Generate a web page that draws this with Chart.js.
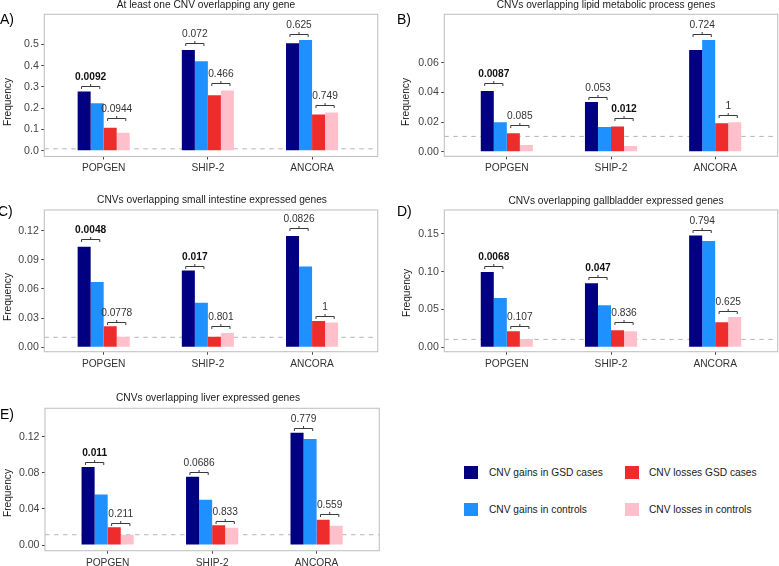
<!DOCTYPE html>
<html><head><meta charset="utf-8">
<script src="https://cdn.jsdelivr.net/npm/chart.js@4"></script>
<style>
body{margin:0;background:#fff;}
#wrap{position:relative;width:779px;height:566px;overflow:hidden;font-family:"Liberation Sans",Arial,sans-serif;background:#fff;}
canvas{position:absolute;}
.t{position:absolute;font-size:10.2px;color:#1a1a1a;white-space:nowrap;line-height:12px;height:12px;text-align:center;width:400px;}
.lt{position:absolute;font-size:14px;color:#000;line-height:16px;white-space:nowrap;}
.yt{position:absolute;font-size:10.2px;color:#1a1a1a;line-height:12px;height:12px;width:100px;text-align:center;transform:rotate(-90deg);}
.sw{position:absolute;width:14px;height:13px;}
.lg{position:absolute;font-size:10.2px;color:#1a1a1a;line-height:12px;white-space:nowrap;}
</style></head>
<body><div id="wrap"></div>
<script>
const categories = ['POPGEN', 'SHIP-2', 'ANCORA'];
const seriesNames = ['CNV gains in GSD cases', 'CNV gains in controls', 'CNV losses GSD cases', 'CNV losses in controls'];
const seriesColors = ['#000080', '#1E90FF', '#EE2C2C', '#FFC0CB'];

// Panel A
const aGainsCases = [0.278, 0.473, 0.505];
const aGainsControls = [0.223, 0.420, 0.520];
const aLossesCases = [0.108, 0.261, 0.170];
const aLossesControls = [0.084, 0.283, 0.180];
const aGainBracket = [0.305, 0.507, 0.548];
const aGainP = ['0.0092', '0.072', '0.625'];
const aGainBold = [true, false, false];
const aLossBracket = [0.152, 0.320, 0.214];
const aLossP = ['0.0944', '0.466', '0.749'];
const aLossBold = [false, false, false];
const aYTicks = [0, 0.1, 0.2, 0.3, 0.4, 0.5];
const aThreshold = 0.009;

// Panel B
const bGainsCases = [0.0409, 0.0335, 0.0685];
const bGainsControls = [0.0198, 0.0166, 0.0753];
const bLossesCases = [0.0124, 0.0169, 0.0191];
const bLossesControls = [0.0045, 0.0038, 0.0198];
const bGainBracket = [0.0465, 0.0371, 0.0793];
const bGainP = ['0.0087', '0.053', '0.724'];
const bGainBold = [true, false, false];
const bLossBracket = [0.0182, 0.0227, 0.0247];
const bLossP = ['0.085', '0.012', '1'];
const bLossBold = [false, true, false];
const bYTicks = [0, 0.02, 0.04, 0.06];
const bThreshold = 0.0103;

// Panel C
const cGainsCases = [0.1035, 0.0789, 0.1145];
const cGainsControls = [0.0672, 0.0459, 0.0830];
const cLossesCases = [0.0216, 0.0110, 0.0271];
const cLossesControls = [0.0110, 0.0147, 0.0254];
const cGainBracket = [0.1110, 0.0837, 0.1224];
const cGainP = ['0.0048', '0.017', '0.0826'];
const cGainBold = [true, true, false];
const cLossBracket = [0.0260, 0.0219, 0.0326];
const cLossP = ['0.0778', '0.801', '1'];
const cLossBold = [false, false, false];
const cYTicks = [0, 0.03, 0.06, 0.09, 0.12];
const cThreshold = 0.0103;

// Panel D
const dGainsCases = [0.0997, 0.0847, 0.1478];
const dGainsControls = [0.0653, 0.0556, 0.1407];
const dLossesCases = [0.0212, 0.0225, 0.0331];
const dLossesControls = [0.0110, 0.0212, 0.0401];
const dGainBracket = [0.1076, 0.0926, 0.1553];
const dGainP = ['0.0068', '0.047', '0.794'];
const dGainBold = [true, true, false];
const dLossBracket = [0.0287, 0.0331, 0.0481];
const dLossP = ['0.107', '0.836', '0.625'];
const dLossBold = [false, false, false];
const dYTicks = [0, 0.05, 0.10, 0.15];
const dThreshold = 0.0105;

// Panel E
const eGainsCases = [0.0864, 0.0757, 0.1244];
const eGainsControls = [0.0561, 0.0502, 0.1174];
const eLossesCases = [0.0196, 0.0218, 0.0281];
const eLossesControls = [0.0114, 0.0192, 0.0214];
const eGainBracket = [0.0916, 0.0805, 0.1300];
const eGainP = ['0.011', '0.0686', '0.779'];
const eGainBold = [true, false, false];
const eLossBracket = [0.0247, 0.0270, 0.0343];
const eLossP = ['0.211', '0.833', '0.559'];
const eLossBold = [false, false, false];
const eYTicks = [0, 0.04, 0.08, 0.12];
const eThreshold = 0.0114;

const FAMILY = '"Liberation Sans", Arial, Helvetica, sans-serif';

const panels = [
  {letter:'A)', title:'At least one CNV overlapping any gene',
   series:[aGainsCases, aGainsControls, aLossesCases, aLossesControls],
   gainY:aGainBracket, gainP:aGainP, gainBold:aGainBold, lossY:aLossBracket, lossP:aLossP, lossBold:aLossBold,
   ticks:aYTicks, dec:1, thr:aThreshold, yMin:-0.027, yMax:0.641,
   box:{x:0,y:0,w:390,h:180}, area:{l:44.3,t:14.3,r:377.7,b:156.5}, xPad:[0.57,0.63],
   titleX:206, titleY:5, letterX:0, letterY:19, freqX:7.5, freqY:102},
  {letter:'B)', title:'CNVs overlapping lipid metabolic process genes',
   series:[bGainsCases, bGainsControls, bLossesCases, bLossesControls],
   gainY:bGainBracket, gainP:bGainP, gainBold:bGainBold, lossY:bLossBracket, lossP:bLossP, lossBold:bLossBold,
   ticks:bYTicks, dec:2, thr:bThreshold, yMin:-0.0031, yMax:0.0926,
   box:{x:390,y:0,w:389,h:180}, area:{l:444.3,t:14.3,r:777.7,b:156.3}, xPad:[0.6,0.6],
   titleX:606, titleY:5, letterX:397, letterY:19, freqX:406, freqY:102},
  {letter:'C)', title:'CNVs overlapping small intestine expressed genes',
   series:[cGainsCases, cGainsControls, cLossesCases, cLossesControls],
   gainY:cGainBracket, gainP:cGainP, gainBold:cGainBold, lossY:cLossBracket, lossP:cLossP, lossBold:cLossBold,
   ticks:cYTicks, dec:2, thr:cThreshold, yMin:-0.0045, yMax:0.1412,
   box:{x:0,y:180,w:390,h:195}, area:{l:44.3,t:210,r:377.7,b:351.7}, xPad:[0.57,0.63],
   titleX:212, titleY:200, letterX:-2, letterY:211, freqX:7.5, freqY:297},
  {letter:'D)', title:'CNVs overlapping gallbladder expressed genes',
   series:[dGainsCases, dGainsControls, dLossesCases, dLossesControls],
   gainY:dGainBracket, gainP:dGainP, gainBold:dGainBold, lossY:dLossBracket, lossP:dLossP, lossBold:dLossBold,
   ticks:dYTicks, dec:2, thr:dThreshold, yMin:-0.0058, yMax:0.1817,
   box:{x:390,y:180,w:389,h:195}, area:{l:444.3,t:210,r:777.7,b:351.7}, xPad:[0.6,0.6],
   titleX:616, titleY:201, letterX:397, letterY:211.5, freqX:406.5, freqY:293},
  {letter:'E)', title:'CNVs overlapping liver expressed genes',
   series:[eGainsCases, eGainsControls, eLossesCases, eLossesControls],
   gainY:eGainBracket, gainP:eGainP, gainBold:eGainBold, lossY:eLossBracket, lossP:eLossP, lossBold:eLossBold,
   ticks:eYTicks, dec:2, thr:eThreshold, yMin:-0.0063, yMax:0.1515,
   box:{x:0,y:380,w:390,h:186}, area:{l:45,t:408.3,r:379.3,b:550.7}, xPad:[0.6,0.6],
   titleX:208, titleY:398.3, letterX:0, letterY:414, freqX:7.5, freqY:493}
];

const wrap = document.getElementById('wrap');
function addDiv(cls, text, style){
  const d = document.createElement('div'); d.className = cls; d.textContent = text;
  Object.assign(d.style, style); wrap.appendChild(d); return d;
}

function makeDecor(p){
  return {
    id:'decor',
    beforeDatasetsDraw(chart){
      const {ctx, chartArea:a, scales:{y}} = chart;
      const yy = y.getPixelForValue(p.thr);
      ctx.save();
      ctx.strokeStyle = '#b5b5b5'; ctx.lineWidth = 1; ctx.setLineDash([4.5, 4.5]);
      ctx.beginPath(); ctx.moveTo(a.left, yy); ctx.lineTo(a.right, yy); ctx.stroke();
      ctx.restore();
    },
    afterDatasetsDraw(chart){
      const {ctx, chartArea:a, scales:{y}} = chart;
      ctx.save();
      ctx.strokeStyle = '#3a3a3a'; ctx.fillStyle = '#2a2a2a'; ctx.lineWidth = 1;
      const pairs = [[0,1,p.gainY,p.gainP,p.gainBold],[2,3,p.lossY,p.lossP,p.lossBold]];
      pairs.forEach(([i1,i2,ys,ps,bs]) => {
        const m1 = chart.getDatasetMeta(i1).data, m2 = chart.getDatasetMeta(i2).data;
        for (let j = 0; j < categories.length; j++) {
          const w = m1[j].width;
          const l = m1[j].x - 0.2*w, r = m2[j].x + 0.2*w, c = (l + r)/2;
          const yb = Math.round(y.getPixelForValue(ys[j])) + 0.5;
          ctx.beginPath();
          ctx.moveTo(l, yb + 2.5); ctx.lineTo(l, yb); ctx.lineTo(r, yb); ctx.lineTo(r, yb + 2.5);
          ctx.moveTo(c, yb); ctx.lineTo(c, yb - 2.5);
          ctx.stroke();
          ctx.font = (bs[j] ? 'bold ' : '') + '10.2px ' + FAMILY;
          ctx.textAlign = 'center'; ctx.textBaseline = 'alphabetic';
          ctx.fillStyle = bs[j] ? '#111' : '#333';
          ctx.fillText(ps[j], c, yb - 6.5);
        }
      });
      ctx.strokeStyle = '#c2c2c2'; ctx.lineWidth = 1.1;
      ctx.strokeRect(a.left, a.top, a.right - a.left, a.bottom - a.top);
      ctx.restore();
    }
  };
}

panels.forEach(p => {
  const cv = document.createElement('canvas');
  cv.width = p.box.w; cv.height = p.box.h;
  Object.assign(cv.style, {left:p.box.x+'px', top:p.box.y+'px', width:p.box.w+'px', height:p.box.h+'px'});
  wrap.appendChild(cv);

  addDiv('t', p.title, {left:(p.titleX-200)+'px', top:(p.titleY-6)+'px'});
  addDiv('lt', p.letter, {left:p.letterX+'px', top:(p.letterY-8.5)+'px'});
  addDiv('yt', 'Frequency', {left:(p.freqX-50)+'px', top:(p.freqY-6)+'px'});

  const gridOpts = {display:true, drawOnChartArea:false, drawTicks:true, tickLength:3, color:'#444', lineWidth:1, offset:false};
  new Chart(cv, {
    type:'bar',
    data:{
      datasets: p.series.map((vals, k) => ({
        label: seriesNames[k],
        data: vals.map((v, i) => ({x: i + 1, y: v})),
        backgroundColor: seriesColors[k],
        borderWidth: 0,
        categoryPercentage: 0.5,
        barPercentage: 1
      }))
    },
    options:{
      responsive:false, animation:false, devicePixelRatio:1,
      layout:{padding:{left:0, top:p.area.t - p.box.y, right:p.box.x + p.box.w - p.area.r, bottom:0}},
      plugins:{legend:{display:false}, tooltip:{enabled:false}, title:{display:false}},
      scales:{
        x:{type:'linear', min:1 - p.xPad[0], max:3 + p.xPad[1], offset:false,
           afterBuildTicks: s => { s.ticks = categories.map((c, i) => ({value: i + 1})); },
           afterFit: s => { s.height = p.box.y + p.box.h - p.area.b; },
           ticks:{callback:(v, i) => categories[i], color:'#333', font:{size:10.2, family:FAMILY}, padding:3, maxRotation:0, autoSkip:false},
           grid:gridOpts, border:{display:false}},
        y:{type:'linear', min:p.yMin, max:p.yMax,
           afterBuildTicks: s => { s.ticks = p.ticks.map(v => ({value: v})); },
           afterFit: s => { s.width = p.area.l - p.box.x; },
           ticks:{callback: v => Number(v).toFixed(p.dec), color:'#444', font:{size:10.6, family:FAMILY}, padding:2.5},
           grid:gridOpts, border:{display:false}}
      }
    },
    plugins:[makeDecor(p)]
  });
});

// Legend
const legendPos = [[464,466,489,472.5],[464,503,489,509.5],[625,466,649,472.5],[625,503,649,509.5]];
const legendOrder = [0,1,2,3];
legendOrder.forEach((k, n) => {
  const [sx, sy, tx, ty] = legendPos[n];
  addDiv('sw', '', {left:sx+'px', top:sy+'px', background:seriesColors[k]});
  addDiv('lg', seriesNames[k], {left:tx+'px', top:(ty-6)+'px'});
});
</script>
</body></html>
